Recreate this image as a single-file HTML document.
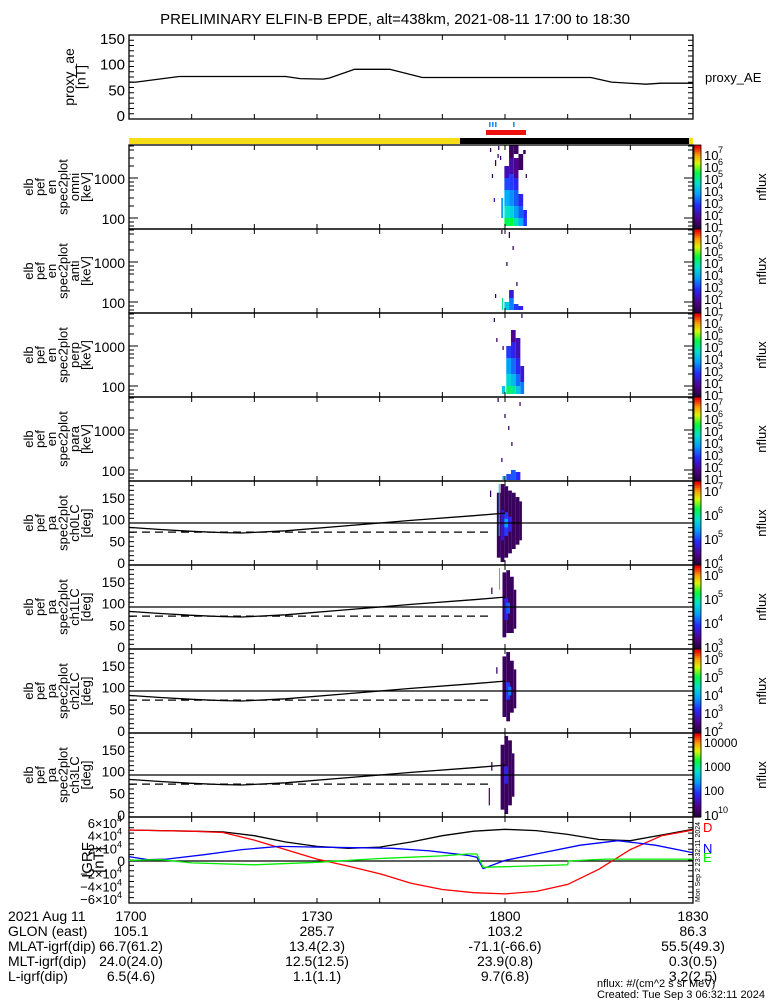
<!DOCTYPE html>
<html><head><meta charset="utf-8"><style>
html,body{margin:0;padding:0;background:#fff;}
svg{display:block;font-family:"Liberation Sans",sans-serif;}
</style></head><body>
<svg id="chart" width="775" height="1000" viewBox="0 0 775 1000" xmlns="http://www.w3.org/2000/svg">
<text x="395" y="24" text-anchor="middle" font-size="15">PRELIMINARY ELFIN-B EPDE, alt=438km, 2021-08-11 17:00 to 18:30</text>
<g id="g"></g>
</svg>
<script>
// ---- data ----
const aeT = [0,1.1,8,25,27.3,31,32,36,41.6,46.8,73.7,77,82.5,84.9,90];
const aeV = [64,64,75,75,71,70,72,89,89,73,73,64,60,62,62];
const lcT = [0,5,10,15,18,25,35,45,55,60];
const lcV = [80,75,71,68,67,72,84,96,107,113];
const alcT = [0,58];
const alcV = [69,69];
const igT = [0,5,10,15,20,25,30,35,40,45,50,55,60,65,70,75,80,85,90];
const igTotal = [4.9,4.8,4.7,4.6,4.0,3.0,2.3,2.0,2.2,3.0,4.0,4.7,5.0,4.8,4.2,3.4,3.2,4.1,5.0];
const igD = [4.9,4.8,4.7,4.5,3.3,1.8,0.3,-0.8,-2.0,-3.5,-4.5,-5.0,-5.2,-4.8,-3.7,-1.3,1.8,4.0,4.9];
const igNT = [0,3,6,12,18,24,30,36,42,48,54,55.5,56.5,60,66,72,78,84,90];
const igN = [0.7,0.2,0.3,1.0,1.8,2.3,2.2,2.1,2.0,1.6,0.9,0.6,-1.2,0.1,1.3,2.5,3.2,2.5,1.3];
const igET = [0,5,10,20,30,35,40,50,54,55.5,56.5,60,70,70.1,76,90];
const igE = [0.1,0.2,-0.3,-0.6,-0.2,0.1,0.4,0.8,1.1,1.1,-1.0,-0.9,-0.6,0,0.3,0.3];
// spectrogram cells: [t, width(min), lo(log keV), hi, level 0..1]
const omniCells = [[59.9,.75,1.8,2,.66],[59.9,.75,2,2.3,.56],[59.9,.75,2.3,2.7,.45],[59.9,.75,2.7,3,.32],[59.9,.75,3,3.3,.18],
[60.65,.75,1.8,2,.68],[60.65,.75,2,2.3,.52],[60.65,.75,2.3,2.7,.4],[60.65,.75,2.7,3.1,.3],[60.65,.75,3.1,3.5,.16],[60.65,.75,3.5,3.83,.06],
[61.4,.75,1.8,2,.58],[61.4,.75,2,2.3,.42],[61.4,.75,2.3,2.7,.34],[61.4,.75,2.7,3,.26],[61.4,.75,3,3.5,.12],[61.4,.75,3.6,3.83,.05],
[62.15,.75,1.8,2,.45],[62.15,.75,2,2.3,.34],[62.15,.75,2.3,2.6,.26],[62.15,.75,3.2,3.6,.06],
[62.9,.6,1.8,2,.3],[62.9,.6,2,2.2,.26],[62.9,.4,3.6,3.7,.05],[59.4,.3,2.0,2.5,.42],
[57.6,.2,3.65,3.75,.05],[57.9,.2,3.0,3.1,.05],[58.4,.2,3.3,3.45,.05],[58.8,.2,3.5,3.6,.05],[59.2,.2,3.45,3.55,.05],[63.3,.2,3.0,3.1,.05],[58.2,.2,2.4,2.5,.15],[58.9,.2,3.7,3.8,.05]];
const antiCells = [[59.9,.75,1.8,2,.5],[60.65,.75,1.8,2.1,.38],[61.4,.75,1.8,1.95,.3],[62.15,.75,1.8,1.9,.26],[59.5,.2,1.8,2.1,.62],
[60.65,.75,2.1,2.3,.22],[59.4,.2,3.7,3.8,.05],[60.6,.2,3.6,3.75,.05],[61.8,.2,2.4,2.5,.05],[60.2,.2,2.9,3.0,.05],[58.4,.2,2.1,2.2,.05],[61.2,.2,3.3,3.4,.05]];
const perpCells = [[60.2,.75,1.8,2,.64],[60.2,.75,2,2.3,.52],[60.2,.75,2.3,2.7,.42],[60.2,.75,2.7,3,.3],
[60.95,.75,1.8,2,.6],[60.95,.75,2,2.3,.47],[60.95,.75,2.3,2.7,.36],[60.95,.75,2.7,3.1,.26],[60.95,.75,3.1,3.4,.13],
[61.7,.75,1.8,2,.5],[61.7,.75,2,2.3,.36],[61.7,.75,2.3,2.7,.27],[61.7,.75,2.7,3.2,.18],[62.45,.6,1.8,2.1,.38],[62.45,.6,2.1,2.5,.22],
[59.5,.5,1.8,2.0,.5],[58.2,.2,3.6,3.7,.05],[58.6,.2,3.1,3.2,.05],[62.6,.2,3.7,3.8,.05],[59.6,.2,2.9,3.0,.05]];
const paraCells = [[60.2,.75,1.75,1.9,.32],[60.95,.75,1.75,2.0,.34],[61.7,.75,1.75,1.95,.28],[59.6,.3,1.75,1.85,.45],
[58.8,.2,3.7,3.8,.05],[59.9,.2,3.3,3.4,.05],[61.0,.2,2.6,2.7,.05],[62.3,.2,3.6,3.7,.05],[59.4,.2,2.2,2.3,.05],[60.5,.2,3.0,3.1,.05]];
// pitch cells: [t, width, lo(deg), hi, level]
const pa0Cells = [[58.7,.6,10,160,.05],[59.3,.6,0,180,.05],[59.9,.6,10,175,.05],[60.5,.6,20,165,.05],[61.1,.6,30,160,.05],[61.7,.6,40,150,.05],[62.3,.4,50,140,.05],
[59.3,.6,50,120,.2],[59.9,.6,60,115,.3],[59.9,.6,80,100,.42],[60.5,.6,70,105,.25],[59.0,.15,60,180,.5],[57.6,.2,150,165,.05]];
const pa1Cells = [[59.6,.6,20,170,.05],[60.2,.6,30,175,.05],[60.8,.6,30,160,.05],[61.4,.4,40,130,.05],[59.9,.6,60,110,.25],[60.2,.6,75,100,.35],[59.05,.15,130,180,.5],[57.8,.2,120,135,.05]];
const pa2Cells = [[59.6,.6,30,170,.05],[60.2,.6,20,180,.05],[60.8,.6,40,160,.05],[61.4,.4,50,140,.05],[60.2,.6,70,110,.3],[60.5,.5,80,100,.38],[58.6,.2,130,145,.05]];
const pa3Cells = [[59.3,.6,10,160,.05],[59.9,.6,0,180,.05],[60.5,.6,20,170,.05],[61.1,.4,40,140,.05],[59.9,.6,70,110,.25],[57.4,.2,20,60,.1],[57.8,.2,100,120,.05]];
const specTitles = ["omni","anti","perp","para"];
const paTitles = ["ch0LC","ch1LC","ch2LC","ch3LC"];
const cbLabelsSpec = [["7","6","5","4","3","2","1"],["7","6","5","4","3","2","1"],["7","6","5","4","3","2","1"],["7","6","5","4","3","2","1"]];
const cbLabelsPa = [["7","6","5","4"],["6","5","4","3"],["6","5","4","3","2"],["10000","1000","100","10"]];
const botRows = ["2021 Aug 11","GLON (east)","MLAT-igrf(dip)","MLT-igrf(dip)","L-igrf(dip)"];
const botCols = [["1700","105.1","66.7(61.2)","24.0(24.0)","6.5(4.6)"],["1730","285.7","13.4(2.3)","12.5(12.5)","1.1(1.1)"],["1800","103.2","-71.1(-66.6)","23.9(0.8)","9.7(6.8)"],["1830","86.3","55.5(49.3)","0.3(0.5)","3.2(2.5)"]];

// ---- drawing ----
const NS="http://www.w3.org/2000/svg";
const g=document.getElementById('g');
const X0=129,X1=693;
const xs=t=>X0+(t/90)*(X1-X0);
function el(tag,attrs,parent){const e=document.createElementNS(NS,tag);for(const k in attrs)e.setAttribute(k,attrs[k]);(parent||g).appendChild(e);return e;}
function txt(s,x,y,attrs){const e=el('text',Object.assign({x:x,y:y,'font-size':13},attrs||{}));e.textContent=s;return e;}
const stops=[[0,[40,0,60]],[0.12,[80,0,140]],[0.28,[40,40,255]],[0.42,[0,160,255]],[0.55,[0,225,210]],[0.68,[0,250,60]],[0.8,[220,250,0]],[0.9,[255,150,0]],[1,[240,0,0]]];
function cmap(v){v=Math.max(0,Math.min(1,v));for(let i=1;i<stops.length;i++){if(v<=stops[i][0]){const a=stops[i-1],b=stops[i],f=(v-a[0])/(b[0]-a[0]);const c=a[1].map((q,j)=>Math.round(q+(b[1][j]-q)*f));return `rgb(${c})`;}}return 'rgb(240,0,0)';}
function line(ts,vs,ys,attrs){let d='';ts.forEach((t,i)=>{d+=(i?'L':'M')+xs(t).toFixed(1)+','+ys(vs[i]).toFixed(1);});return el('path',Object.assign({d:d,fill:'none',stroke:'#000','stroke-width':1.3},attrs||{}));}
function frame(top,bot,name){
  const r=el('rect',{x:X0,y:top,width:X1-X0,height:bot-top,fill:'none',stroke:'#000','stroke-width':1.3});
  
  
  for(let t=10;t<90;t+=10){el('line',{x1:xs(t),x2:xs(t),y1:top,y2:top+5,stroke:'#000'});el('line',{x1:xs(t),x2:xs(t),y1:bot,y2:bot-5,stroke:'#000'});}
}
function minorTicks(top,bot,n){for(let i=1;i<n;i++){const y=top+(bot-top)*i/n;el('line',{x1:X0,x2:X0+5,y1:y,y2:y,stroke:'#000'});el('line',{x1:X1,x2:X1-5,y1:y,y2:y,stroke:'#000'});}}
function ylabel(lines,top,bot,name,x0,fs){
  const cy=(top+bot)/2;
  const grp=el('g',{});
  
  
  lines.forEach((s,i)=>{const x=x0+i*11.5;const t=txt(s,x,cy,{'font-size':fs||13,'text-anchor':'middle',transform:`rotate(-90 ${x} ${cy})`});grp.appendChild(t);});
}
function colorbar(top,bot,labels,name){
  const grp=el('g',{});
  
  
  const n=40;for(let i=0;i<n;i++){el('rect',{x:694,y:bot-(i+1)*(bot-top)/n,width:7,height:(bot-top)/n+0.6,fill:cmap(i/(n-1))},grp);}
  el('rect',{x:694,y:top,width:7,height:bot-top,fill:'none',stroke:'#000','stroke-width':0.8},grp);
  labels.forEach((s,i)=>{const y=top+10+i*(bot-top-12)/(labels.length-1);
    if(s.length>2){const t=txt(s,704,y+4,{'font-size':12});grp.appendChild(t);}
    else{const t=txt('10',704,y+5,{'font-size':13});grp.appendChild(t);const u=txt(s,718,y-2,{'font-size':9});grp.appendChild(u);}});
  const cy=(top+bot)/2;const t=txt('nflux',766,cy,{'font-size':13,'text-anchor':'middle',transform:`rotate(-90 766 ${cy})`});grp.appendChild(t);
}
function cells(list,ys,name){
  const grp=el('g',{});
  
  
  list.forEach(c=>{const y1=ys(c[3]),y2=ys(c[2]);el('rect',{x:xs(c[0]),y:y1,width:Math.max(1,xs(c[0]+c[1])-xs(c[0])),height:y2-y1,fill:cmap(c[4])},grp);});
}

// proxy AE
{const top=35,bot=119;const ys=v=>115-v*77/150;
 frame(top,bot,'proxy-ae');minorTicks(top,bot,16);
 [0,50,100,150].forEach(v=>txt(String(v),125,ys(v)+6,{'text-anchor':'end','font-size':15}));
 line(aeT,aeV,ys,{});
 ylabel(['proxy_ae','[nT]'],top,bot,'proxy-ae-axis-title',74,14);
 txt('proxy_AE',705,82,{'font-size':13,});
}
// status bars
el('rect',{x:129,y:138,width:331,height:6,fill:'#f5dc14',});
el('rect',{x:460,y:138,width:229,height:6,fill:'#000',});
el('rect',{x:689,y:138,width:4,height:6,fill:'#f5dc14'});
el('rect',{x:486,y:130,width:40,height:5,fill:'#f01010',});
[489,492,495,513].forEach(x=>el('rect',{x:x,y:122,width:1.6,height:5,fill:'#1e90ff'}));

// spectrograms
const specLists=[omniCells,antiCells,perpCells,paraCells];
for(let k=0;k<4;k++){
  const top=145+k*84,bot=top+84;const ys=l=>top+(3.825-l)*40;
  cells(specLists[k],ys,'spectrogram-'+specTitles[k]);
  frame(top,bot,'spec-'+specTitles[k]);
  [[1.8,0],[1.9,0],[2,1],[2.3,0],[2.5,0],[2.7,0],[2.8,0],[2.9,0],[3,1],[3.3,0],[3.5,0],[3.7,0],[3.8,0]].forEach(([l,maj])=>{const y=ys(l);const w=maj?9:5;el('line',{x1:X0,x2:X0+w,y1:y,y2:y,stroke:'#000'});el('line',{x1:X1,x2:X1-w,y1:y,y2:y,stroke:'#000'});});
  txt('1000',125,ys(3)+6,{'text-anchor':'end','font-size':14});
  txt('100',125,ys(2)+6,{'text-anchor':'end','font-size':14});
  ylabel(['elb','pef','en','spec2plot',specTitles[k],'[keV]'],top,bot,'spec-'+specTitles[k]+'-axis-title',33);
  colorbar(top,bot,cbLabelsSpec[k],'colorbar-'+specTitles[k]);
}
// pitch angle panels
const paLists=[pa0Cells,pa1Cells,pa2Cells,pa3Cells];
for(let k=0;k<4;k++){
  const top=481+k*84,bot=top+84;const ys=p=>bot-3-p*0.433;
  cells(paLists[k],ys,'pitch-spectrogram-'+paTitles[k]);
  frame(top,bot,'pitch-'+paTitles[k]);minorTicks(top,bot,18);
  [0,50,100,150].forEach(v=>txt(String(v),125,ys(v)+6,{'text-anchor':'end','font-size':14}));
  el('line',{x1:X0,x2:X1,y1:ys(90),y2:ys(90),stroke:'#000','stroke-width':1.3});
  line(lcT,lcV,ys,{});
  line(alcT,alcV,ys,{'stroke-dasharray':'8,5',});
  ylabel(['elb','pef','pa','spec2plot',paTitles[k],'[deg]'],top,bot,'pitch-'+paTitles[k]+'-axis-title',33);
  colorbar(top,bot,cbLabelsPa[k],'colorbar-'+paTitles[k]);
}
// IGRF
{const top=817,bot=903;const ys=v=>861-v*38/6;
 frame(top,bot,'igrf');minorTicks(top,bot,16);
 el('line',{x1:X0,x2:X1,y1:ys(0),y2:ys(0),stroke:'#000','stroke-width':1.3});
 [6,4,2,0,-2,-4,-6].forEach(v=>{const y=ys(v)+5;if(v===0){txt('0',125,y,{'text-anchor':'end','font-size':14});return;}
   txt((v<0?'\u2212':'')+Math.abs(v)+'\u00d710',117,y,{'text-anchor':'end','font-size':13});txt('4',117,y-6,{'font-size':9});});
 line(igT,igTotal,ys,{stroke:'#000',});
 line(igT,igD,ys,{stroke:'#f00',});
 line(igNT,igN,ys,{stroke:'#00f',});
 line(igET,igE,ys,{stroke:'#0e0',});
 ylabel(['IGRF','[nT]'],top,bot,'igrf-axis-title',92,15);
 txt('D',703,832,{fill:'#f00','font-size':13});txt('N',703,853,{fill:'#00f','font-size':13});txt('E',703,862,{fill:'#0e0','font-size':13});
 txt('Mon Sep  2 23:32:11 2024',700,902,{'font-size':7,transform:'rotate(-90 700 902)'});
}
// bottom annotations
botRows.forEach((s,i)=>txt(s,8,921+i*15,{'font-size':14,}));
const colX=[131,317,505,693];
botCols.forEach((col,j)=>col.forEach((s,i)=>txt(s,colX[j],921+i*15,{'font-size':14,'text-anchor':'middle'})));
txt('nflux: #/(cm^2 s sr MeV)',597,987,{'font-size':11});
txt('Created: Tue Sep  3 06:32:11 2024',597,998,{'font-size':11});
</script>
</body></html>
